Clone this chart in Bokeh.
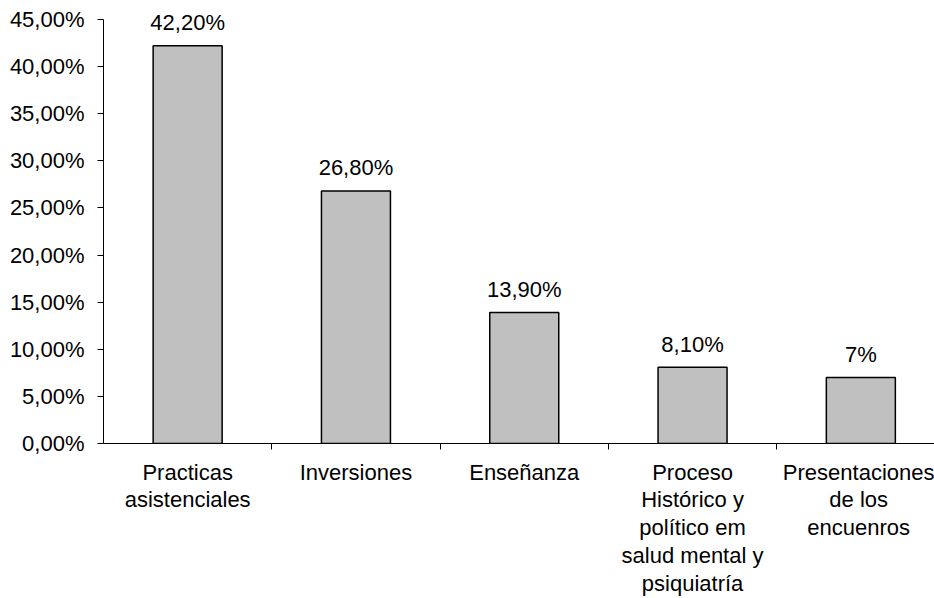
from bokeh.plotting import figure
from bokeh.models import Range1d, FixedTicker, ColumnDataSource
from bokeh.core.properties import value
from bokeh.embed import file_html
from bokeh.resources import INLINE

categories = ["Practicas\nasistenciales", "Inversiones", "Enseñanza",
              "Proceso\nHistórico y\npolítico em\nsalud mental y\npsiquiatría",
              "Presentaciones\nde los\nencuenros"]
values = [42.2, 26.8, 13.9, 8.1, 7.0]
value_labels = ["42,20%", "26,80%", "13,90%", "8,10%", "7%"]
y_ticks = [0, 5, 10, 15, 20, 25, 30, 35, 40, 45]
y_tick_labels = ["0,00%", "5,00%", "10,00%", "15,00%", "20,00%", "25,00%",
                 "30,00%", "35,00%", "40,00%", "45,00%"]

FONT = "Liberation Sans"
FS = "22px"
y_top = 45
y_end = y_top + 19 * y_top / 425.0

xs = [i + 0.5 for i in range(len(categories))]
bounds = [i + 1 for i in range(len(categories))]

p = figure(width=934, height=598, output_backend="svg", toolbar_location=None,
           x_range=Range1d(0, 831 / 168.3), y_range=Range1d(0, y_end),
           min_border_left=103, min_border_right=0, min_border_top=0,
           min_border_bottom=154)
p.outline_line_color = None
p.grid.visible = False
p.background_fill_color = "white"
p.border_fill_color = "white"

src = ColumnDataSource(dict(x=xs, top=values, lab=value_labels))
p.vbar(x="x", top="top", bottom=0, width=0.41, source=src,
       fill_color="#C0C0C0", line_color="black", line_width=1.5)
p.text(x="x", y="top", text="lab", source=src, text_align="center",
       text_baseline="middle", y_offset=-23, text_font=value(FONT),
       text_font_size=FS, text_color="black")

# y axis
ya = p.yaxis[0]
ya.ticker = FixedTicker(ticks=y_ticks)
ya.bounds = (0, y_top)
ya.major_label_overrides = {t: l for t, l in zip(y_ticks, y_tick_labels)}
ya.major_label_text_font = FONT
ya.major_label_text_font_size = FS
ya.major_label_text_color = "black"
ya.major_tick_in = 0
ya.major_tick_out = 6
ya.minor_tick_line_color = None
ya.axis_line_color = "black"
ya.major_tick_line_color = "black"
ya.major_label_standoff = 13

# x axis: labels at centres, tick marks at category boundaries
xa = p.xaxis[0]
xa.ticker = FixedTicker(ticks=xs, minor_ticks=bounds)
xa.major_label_overrides = {x: c for x, c in zip(xs, categories)}
xa.major_label_text_font = FONT
xa.major_label_text_font_size = FS
xa.major_label_text_color = "black"
xa.major_label_text_line_height = 1.11
xa.major_tick_in = 0
xa.major_tick_out = 0
xa.minor_tick_in = 0
xa.minor_tick_out = 6
xa.minor_tick_line_color = "black"
xa.axis_line_color = "black"
xa.major_label_standoff = 10

open("out.html", "w").write(file_html(p, INLINE))
